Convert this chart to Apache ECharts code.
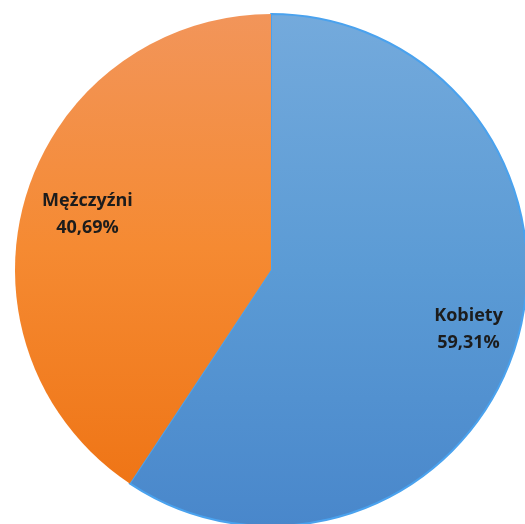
<!DOCTYPE html>
<html>
<head>
<meta charset="utf-8">
<script src="https://cdn.jsdelivr.net/npm/echarts@6/dist/echarts.min.js"></script>
<style>
html,body{margin:0;padding:0;background:#fff;}
#chart{width:525px;height:524px;}
</style>
</head>
<body>
<div id="chart"></div>
<script>
var categories = ['Kobiety', 'Mężczyźni'];
var values = [59.31, 40.69];
var labelTexts = ['59,31%', '40,69%'];

var colorStops = [
  [{offset:0,color:'#74aadc'},{offset:0.5,color:'#5b9bd5'},{offset:1,color:'#4987cb'}],
  [{offset:0,color:'#f2955a'},{offset:0.5,color:'#f58a32'},{offset:1,color:'#ef7516'}]
];
var borderColors = ['#4aa2ee', '#f08a3a'];

var chart = echarts.init(document.getElementById('chart'));
var baseData = categories.map(function(c, i){
  return {
    name: c,
    value: values[i],
    itemStyle: {
      color: {type:'linear', x:0, y:0, x2:0, y2:1, colorStops: colorStops[i]},
      borderColor: borderColors[i],
      borderWidth: i === 0 ? 2 : 0
    }
  };
});
var labelData = categories.map(function(c, i){
  return { name: c, value: values[i] };
});

chart.setOption({
  animation: false,
  series: [
    {
      type: 'pie',
      center: [271, 270],
      radius: [0, 256],
      startAngle: 90,
      clockwise: true,
      label: {show: false},
      labelLine: {show: false},
      silent: true,
      data: baseData
    },
    {
      type: 'pie',
      center: [271, 270],
      radius: [136, 256],
      startAngle: 90,
      clockwise: true,
      silent: true,
      itemStyle: {color: 'rgba(0,0,0,0)'},
      labelLine: {show: false},
      label: {
        show: true,
        position: 'inside',
        offset: [7, 2],
        fontFamily: 'Open Sans',
        fontWeight: 'bold',
        fontSize: 18,
        lineHeight: 27,
        color: '#1c1c1c',
        formatter: function(p){ return p.name + '\n' + labelTexts[p.dataIndex]; }
      },
      data: labelData
    }
  ]
});
</script>
</body>
</html>
